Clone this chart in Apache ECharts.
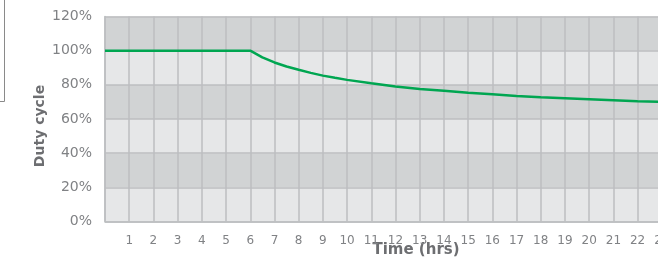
<html>
<body style="margin:0">
<script src="https://cdn.jsdelivr.net/npm/echarts@6/dist/echarts.min.js"></script>
<div style="width:658px;height:261px" id="chartmain"></div>
<script type="text/javascript">
    // hours and duty cycle (%)
    var hours = [0, 1, 2, 3, 4, 5, 6, 6.5, 7, 7.5, 8, 8.5, 9, 9.5, 10, 11, 12, 13, 14, 15, 16, 17, 18, 19, 20, 21, 22, 23, 24];
    var duty = [100, 100, 100, 100, 100, 100, 100, 96.1, 93.1, 90.7, 88.8, 87.0, 85.4, 84.1, 82.9, 80.9, 79.0, 77.6, 76.6, 75.4, 74.5, 73.5, 72.8, 72.2, 71.6, 71.0, 70.4, 70.0, 69.6];
    var yTicks = [0, 20, 40, 60, 80, 100, 120];

    window.onload = function () {
        var pts = [];
        for (var i = 0; i < hours.length; i++) {
            pts.push([hours[i], duty[i]]);
        }
        var grey = '#808285';
        var dark = '#6d6e71';
        var option = {
            animation: false,
            grid: { left: 105, top: 16.5, width: 581, height: 205, outerBoundsMode: 'none' },
            xAxis: {
                type: 'value', min: 0, max: 24, interval: 1,
                axisLine: { show: true, lineStyle: { color: '#bcbec0', width: 1.5 } },
                axisTick: { show: false },
                splitLine: { show: true, lineStyle: { color: '#bcbec0', width: 1.5 } },
                axisLabel: {
                    color: grey, fontFamily: 'DejaVu Sans', fontSize: 12, margin: 7,
                    formatter: function (v) { return (v == 0 || v == 24) ? '' : v; }
                }
            },
            yAxis: {
                type: 'value', min: yTicks[0], max: yTicks[yTicks.length - 1], interval: 20,
                axisLine: { show: true, lineStyle: { color: '#bcbec0', width: 1.5 } },
                axisTick: { show: false },
                splitLine: { show: true, lineStyle: { color: '#bcbec0', width: 1.5 } },
                splitArea: { show: true, areaStyle: { color: ['#e6e7e8', '#d1d3d4'] } },
                axisLabel: { color: grey, fontFamily: 'DejaVu Sans', fontSize: 14, margin: 13, formatter: '{value}%' }
            },
            graphic: [
                // edge of a box that is cut off at the left
                { type: 'polyline', shape: { points: [[4.5, 0], [4.5, 101.5], [0, 101.5]] }, style: { fill: null, stroke: '#8a8a8a', lineWidth: 1 } },
                { type: 'text', x: 40, y: 126, rotation: Math.PI / 2, style: { text: 'Duty cycle', fill: dark, font: 'bold 14px "DejaVu Sans"', align: 'center', verticalAlign: 'middle' } },
                { type: 'text', x: 416, y: 250, style: { text: 'Time (hrs)', fill: dark, font: 'bold 15px "DejaVu Sans"', align: 'center', verticalAlign: 'middle' } }
            ],
            series: [{
                type: 'line',
                data: pts,
                smooth: false,
                symbol: 'none',
                lineStyle: { color: '#00a651', width: 2.5 }
            }]
        };
        var myChart = echarts.init(document.getElementById('chartmain'));
        myChart.setOption(option);
    }
</script>
</body>
</html>
